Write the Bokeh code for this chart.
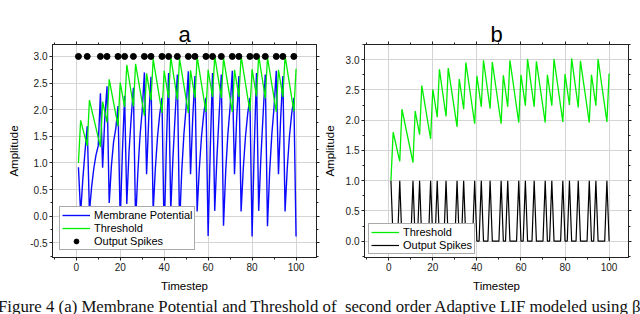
from bokeh.plotting import figure
from bokeh.layouts import row, column
from bokeh.models import (LinearAxis, SingleIntervalTicker, PrintfTickFormatter,
                          CustomJSTickFormatter, Range1d, Legend, LegendItem, Div)
from bokeh.embed import file_html
from bokeh.resources import INLINE

# ---------------- data ----------------
timesteps = list(range(1, 101))

membrane_potential = [
    0.92, 0.05, 0.70, 1.22, 1.69, 0.08, 0.55, 0.90, 1.15, 1.32,
    2.31, 0.91, 1.85, 2.44, 0.25, 0.95, 1.40, 1.65, 2.07, -0.10,
    1.20, 2.26, 0.23, 1.20, 1.85, 2.41, -0.12, 0.80, 1.50, 1.98,
    2.70, 0.79, 1.85, 2.62, 0.09, 0.90, 1.50, 1.92, 2.22, -0.37,
    1.30, 2.69, 0.10, 1.10, 1.90, 2.66, -0.18, 0.85, 1.55, 2.05,
    2.72, 0.79, 1.85, 2.63, 0.09, 0.90, 1.50, 1.92, 2.22, -0.37,
    1.30, 2.69, 0.10, 1.10, 1.90, 2.66, -0.18, 0.85, 1.55, 2.05,
    2.73, 0.79, 1.85, 2.63, 0.09, 0.90, 1.50, 1.92, 2.22, -0.38,
    1.30, 2.69, 0.10, 1.10, 1.90, 2.66, -0.19, 0.85, 1.55, 2.05,
    2.73, 0.79, 1.85, 2.63, 0.09, 0.90, 1.50, 1.92, 2.22, -0.38,
]

threshold_t = [1, 2, 5, 6, 11, 12, 14, 15, 19, 20, 22, 23, 26, 27, 31, 32, 34, 35,
               39, 40, 42, 43, 46, 47, 51, 52, 54, 55, 59, 60, 62, 63, 66, 67,
               71, 72, 74, 75, 79, 80, 82, 83, 86, 87, 91, 92, 94, 95, 99, 100]
threshold_v = [1.00, 1.80, 1.32, 2.18, 1.30, 2.15, 1.76, 2.57, 1.69, 2.51, 2.05, 2.84,
               2.06, 2.86, 1.89, 2.68, 2.18, 2.95, 1.94, 2.73, 2.22, 2.99, 2.19, 2.96,
               1.94, 2.74, 2.22, 2.99, 1.96, 2.75, 2.24, 3.01, 2.22, 2.97, 1.96, 2.75,
               2.24, 3.01, 1.97, 2.76, 2.25, 3.02, 2.21, 2.98, 1.96, 2.75, 2.24, 3.01,
               1.97, 2.77]

spike_times = [1, 5, 11, 14, 19, 22, 26, 31, 34, 39, 42, 46, 51, 54, 59, 62, 66,
               71, 74, 79, 82, 86, 91, 94, 99]
spike_marker_level = 3.0
spike_train = [1 if t in spike_times else 0 for t in timesteps]

x_tick_step = 20
y_tick_step = 0.5
caption = "Figure 4 (a) Membrane Potential and Threshold of\u00a0 second order Adaptive LIF modeled using \u03b2"

FONT = "Liberation Sans"
BLUE = "#0a0aff"
GREEN = "#00ee00"
DARK = "#222222"


def make_fig(title, width, xr, yr, min_left, min_right):
    p = figure(width=width, height=300, x_range=Range1d(*xr), y_range=Range1d(*yr),
               output_backend="svg", toolbar_location=None,
               min_border_left=min_left, min_border_right=min_right,
               min_border_top=44, min_border_bottom=43,
               background_fill_color="white", border_fill_color="white")
    p.outline_line_color = DARK
    p.outline_line_width = 1
    p.title.text = title
    p.title.align = "center"
    p.title.text_font = FONT
    p.title.text_font_size = "22px"
    p.title.text_font_style = "normal"
    p.title.text_color = "black"
    p.title.standoff = -11

    xt = SingleIntervalTicker(interval=x_tick_step, num_minor_ticks=2)
    yt = SingleIntervalTicker(interval=y_tick_step, num_minor_ticks=2)
    p.xaxis.ticker = xt
    p.yaxis.ticker = yt
    p.yaxis.formatter = PrintfTickFormatter(format="%.1f")
    p.xaxis.axis_label = "Timestep"
    p.yaxis.axis_label = "Amplitude"
    for ax in (p.xaxis[0], p.yaxis[0]):
        ax.axis_label_text_font = FONT
        ax.axis_label_text_font_size = "11.5px"
        ax.axis_label_text_font_style = "normal"
        ax.axis_label_text_color = "black"
        ax.major_label_text_font = FONT
        ax.major_label_text_font_size = "10px"
        ax.major_label_text_color = DARK
        ax.major_tick_out = 3
        ax.major_tick_in = 0
        ax.minor_tick_out = 2
        ax.minor_tick_in = 0
        ax.axis_line_color = DARK
        ax.major_tick_line_color = DARK
        ax.minor_tick_line_color = DARK
    p.yaxis.major_label_standoff = 2
    p.yaxis.axis_label_standoff = 7
    p.xaxis.major_label_standoff = 2
    p.xaxis.axis_label_standoff = 6

    blank = CustomJSTickFormatter(code="return '';")
    for loc, tk in (("right", yt), ("above", xt)):
        ax = LinearAxis(ticker=tk, formatter=blank, major_label_standoff=0,
                        major_tick_out=3, major_tick_in=0, minor_tick_out=2, minor_tick_in=0,
                        axis_line_color=DARK, major_tick_line_color=DARK,
                        minor_tick_line_color=DARK)
        p.add_layout(ax, loc)

    p.xgrid.ticker = xt
    p.ygrid.ticker = yt
    p.xgrid.grid_line_color = "#d4d4d4"
    p.ygrid.grid_line_color = "#d4d4d4"
    return p


def style_legend(lg):
    lg.label_text_font = FONT
    lg.label_text_font_size = "11px"
    lg.label_text_color = "black"
    lg.glyph_width = 28
    lg.glyph_height = 12
    lg.label_height = 12
    lg.label_standoff = 4
    lg.spacing = 1
    lg.padding = 2
    lg.margin = 0
    lg.border_line_color = "#555555"
    lg.border_line_width = 1
    lg.background_fill_color = "white"
    lg.background_fill_alpha = 1.0


# ---------------- panel a ----------------
pa = make_fig("a", 320, (-10.8, 109.3), (-0.776, 3.224), 52, 4)
r_mem = pa.line(timesteps, membrane_potential, line_color=BLUE, line_width=1.4)
r_thr = pa.line(threshold_t, threshold_v, line_color=GREEN, line_width=1.3)
r_spk = pa.scatter(spike_times, [spike_marker_level] * len(spike_times), size=6,
                   fill_color="black", line_color="black")
lga = Legend(items=[LegendItem(label="Membrane Potential", renderers=[r_mem]),
                    LegendItem(label="Threshold", renderers=[r_thr]),
                    LegendItem(label="Output Spikes", renderers=[r_spk])],
             location=(7, 7))
style_legend(lga)
pa.add_layout(lga)

# ---------------- panel b ----------------
pb = make_fig("b", 312, (-11.0, 108.8), (-0.27, 3.25), 44, 4)
rb_thr = pb.line(threshold_t, threshold_v, line_color=GREEN, line_width=1.3)
rb_spk = pb.line(timesteps, spike_train, line_color="black", line_width=1.2)
lgb = Legend(items=[LegendItem(label="Threshold", renderers=[rb_thr]),
                    LegendItem(label="Output Spikes", renderers=[rb_spk])],
             location=(4, 3))
style_legend(lgb)
pb.add_layout(lgb)

cap = Div(text='<span style="position:relative; top:-7px; left:-7px;">' + caption + '</span>',
          width=632, height=6,
          styles={"font-family": "Liberation Serif", "font-size": "16.8px",
                  "white-space": "nowrap", "line-height": "17px", "color": "#111111"})

layout = column(row(pa, pb), cap)
open("out.html", "w").write(file_html(layout, INLINE))
